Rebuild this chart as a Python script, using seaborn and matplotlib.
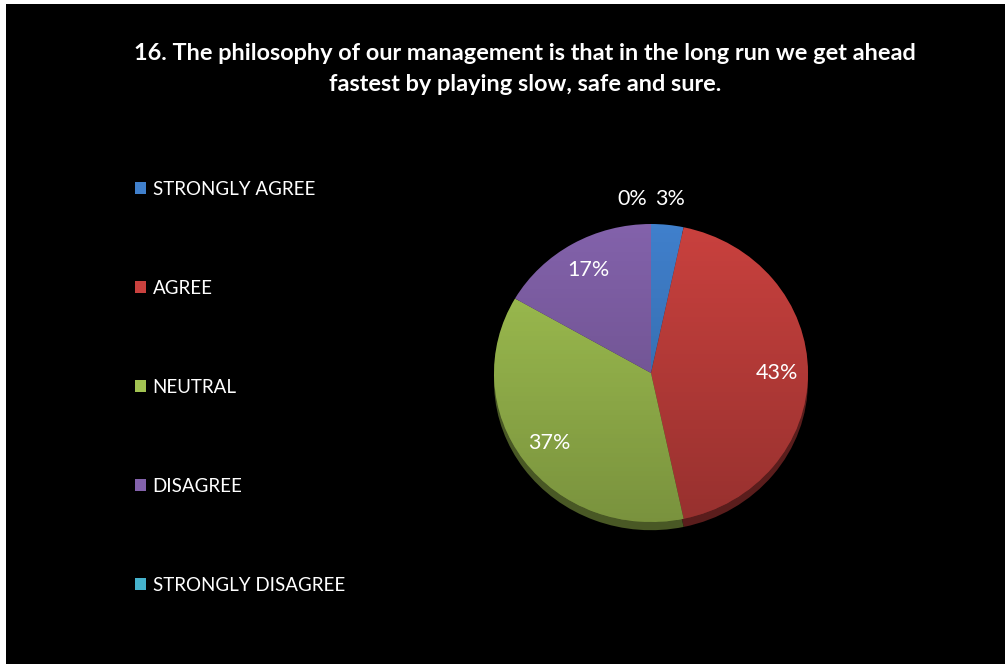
import numpy as np
import matplotlib
matplotlib.use("Agg")
import matplotlib.pyplot as plt
from matplotlib.patches import Rectangle, Ellipse
import seaborn as sns

# Survey responses (30 respondents)
categories = ["STRONGLY AGREE", "AGREE", "NEUTRAL", "DISAGREE", "STRONGLY DISAGREE"]
counts = [1, 13, 11, 5, 0]
title = ("16. The philosophy of our management is that in the long run we get ahead\n"
         "fastest by playing slow, safe and sure.")

sns.set_theme(style="white")
plt.rcParams["font.family"] = ["Lato", "DejaVu Sans"]

colors = ["#4080cc", "#c9413e", "#a2c352", "#8362ab", "#45b2cc"]
dark = [tuple(np.array(matplotlib.colors.to_rgb(c)) * 0.45) for c in colors]

W, H = 1005, 664
fig = plt.figure(figsize=(W / 100, H / 100), dpi=100)
fig.patch.set_facecolor("white")
# black chart area
fig.add_artist(Rectangle((6 / W, 0), 1 - 6 / W, 1 - 4 / H, transform=fig.transFigure,
                         facecolor="black", edgecolor="none", zorder=0))

fig.text(525 / W, 1 - 69 / H, title, ha="center", va="center", color="white",
         fontsize=16.9, fontweight="bold", linespacing=1.6)

# pie axes, slightly squashed vertically for a tilted look
cx, cy, rx, ry = 651, 373, 157, 149
rim = 0.055
ax = fig.add_axes([(cx - rx) / W, (H - cy - ry * (1 + rim)) / H,
                   2 * rx / W, ry * (2 + rim) / H])
ax.set_facecolor("none")

total = sum(counts)
# rim under the pie
ax.pie(counts, colors=dark, startangle=90, counterclock=False, radius=1.0,
       center=(0, -rim), wedgeprops=dict(linewidth=0))
wedges, _ = ax.pie(counts, colors=colors, startangle=90, counterclock=False,
                   radius=1.0, wedgeprops=dict(linewidth=0))

# soft vertical shading on the face: lighter at the top, darker at the bottom
grad = np.linspace(0, 1, 256).reshape(-1, 1)
rgba = np.zeros((256, 1, 4))
rgba[..., 3] = 0.25 * grad
img = ax.imshow(rgba, extent=(-1, 1, -1, 1), origin="upper", aspect="auto",
                zorder=5, interpolation="bilinear")
clip = Ellipse((0, 0), 2, 2, transform=ax.transData)
img.set_clip_path(clip)

ax.set_xlim(-1, 1)
ax.set_ylim(-1 - rim, 1)
ax.set_aspect("auto")
ax.axis("off")

# percentage labels
cum = np.cumsum([0] + counts)
for i, v in enumerate(counts):
    pct = 100 * v / total
    mid = (cum[i] + cum[i + 1]) / 2 / total
    ang = np.deg2rad(90 - 360 * mid)
    if pct < 5:
        y = 1.17
        x = 0.12 if i == 0 else -0.12
    else:
        r = 0.8
        x, y = r * np.cos(ang), r * np.sin(ang)
    ax.text(x, y, f"{pct:.0f}%", ha="center", va="center", color="white",
            fontsize=15.5, zorder=10, clip_on=False)

# legend down the left side
handles = [Rectangle((0, 0), 1, 1, facecolor=c, edgecolor="none") for c in colors]
leg = fig.legend(handles, categories, loc="upper left",
                 bbox_to_anchor=(118 / W, 1 - 164 / H), frameon=False,
                 labelcolor="white", fontsize=13.5, handlelength=0.6,
                 handleheight=0.6, handletextpad=0.35, labelspacing=4.37)

fig.savefig("out.png", dpi=100, facecolor=fig.get_facecolor())
